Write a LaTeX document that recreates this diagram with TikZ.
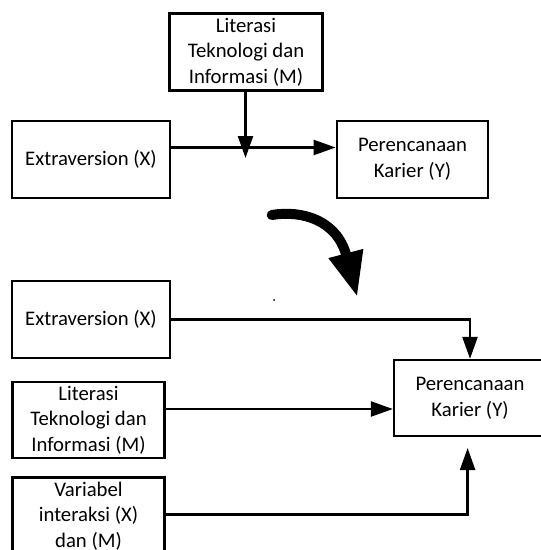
\documentclass[tikz,border=0pt]{standalone}
\usepackage{fontspec}
\setmainfont{Carlito}
\usetikzlibrary{arrows.meta}

\tikzset{
  kotak/.style={draw=black,line width=1.3pt,align=center,inner sep=0pt,
    font=\fontsize{11.8}{14.6}\selectfont},
  panah/.style={-{Triangle[length=0.44cm,width=0.3cm]},line width=1.3pt},
}

\begin{document}
\begin{tikzpicture}[x=0.02cm,y=-0.02cm]
   \useasboundingbox (0,0) rectangle (540,550);
   % model awal
   \node[kotak,minimum width=3.06cm,minimum height=1.54cm] (m1) at (246,52)
      {Literasi\\Teknologi dan\\Informasi (M)};
   \node[kotak,minimum width=3.15cm,minimum height=1.54cm] (x1) at (91,159.5)
      {Extraversion (X)};
   \node[kotak,minimum width=3.03cm,minimum height=1.54cm] (y1) at (412.5,159.5)
      {Perencanaan\\Karier (Y)};
   \coordinate (j1) at (245.5,147.5);
   \coordinate (mtip) at (245.5,158);
   \draw[panah] (x1.east |- j1) -- (y1.west |- j1);
   \draw[panah] (m1.south -| mtip) -- (mtip);
   % panah besar
   \coordinate (c1) at (271.7,215);
   \coordinate (c2) at (357.3,297);
   \draw[line width=0.2cm,line cap=round,-{Triangle[length=0.9cm,width=0.66cm]}]
      (c1) .. controls (302,210) and (337,220) .. (c2);
   \fill (274,300) circle (0.02cm);
   % model regresi
   \node[kotak,minimum width=3.15cm,minimum height=1.54cm] (x2) at (91,319.5)
      {Extraversion (X)};
   \node[kotak,minimum width=3.04cm,minimum height=1.53cm] (m2) at (88.5,420)
      {Literasi\\Teknologi dan\\Informasi (M)};
   \node[kotak,minimum width=3.04cm,minimum height=1.54cm] (v2) at (88.5,516)
      {Variabel\\interaksi (X)\\dan (M)};
   \node[kotak,minimum width=3.04cm,minimum height=1.52cm] (y2) at (470,398)
      {Perencanaan\\Karier (Y)};
   \coordinate (k1) at (470,319.5);
   \coordinate (k2) at (394,409);
   \coordinate (k3) at (467.6,514.5);
   \coordinate (vtip) at (467.6,448);
   \draw[panah] (x2.east |- k1) -- (k1) -- (y2.north -| k1);
   \draw[panah] (m2.east |- k2) -- (y2.west |- k2);
   \draw[panah] (v2.east |- k3) -- (k3) -- (vtip);
\end{tikzpicture}
\end{document}
